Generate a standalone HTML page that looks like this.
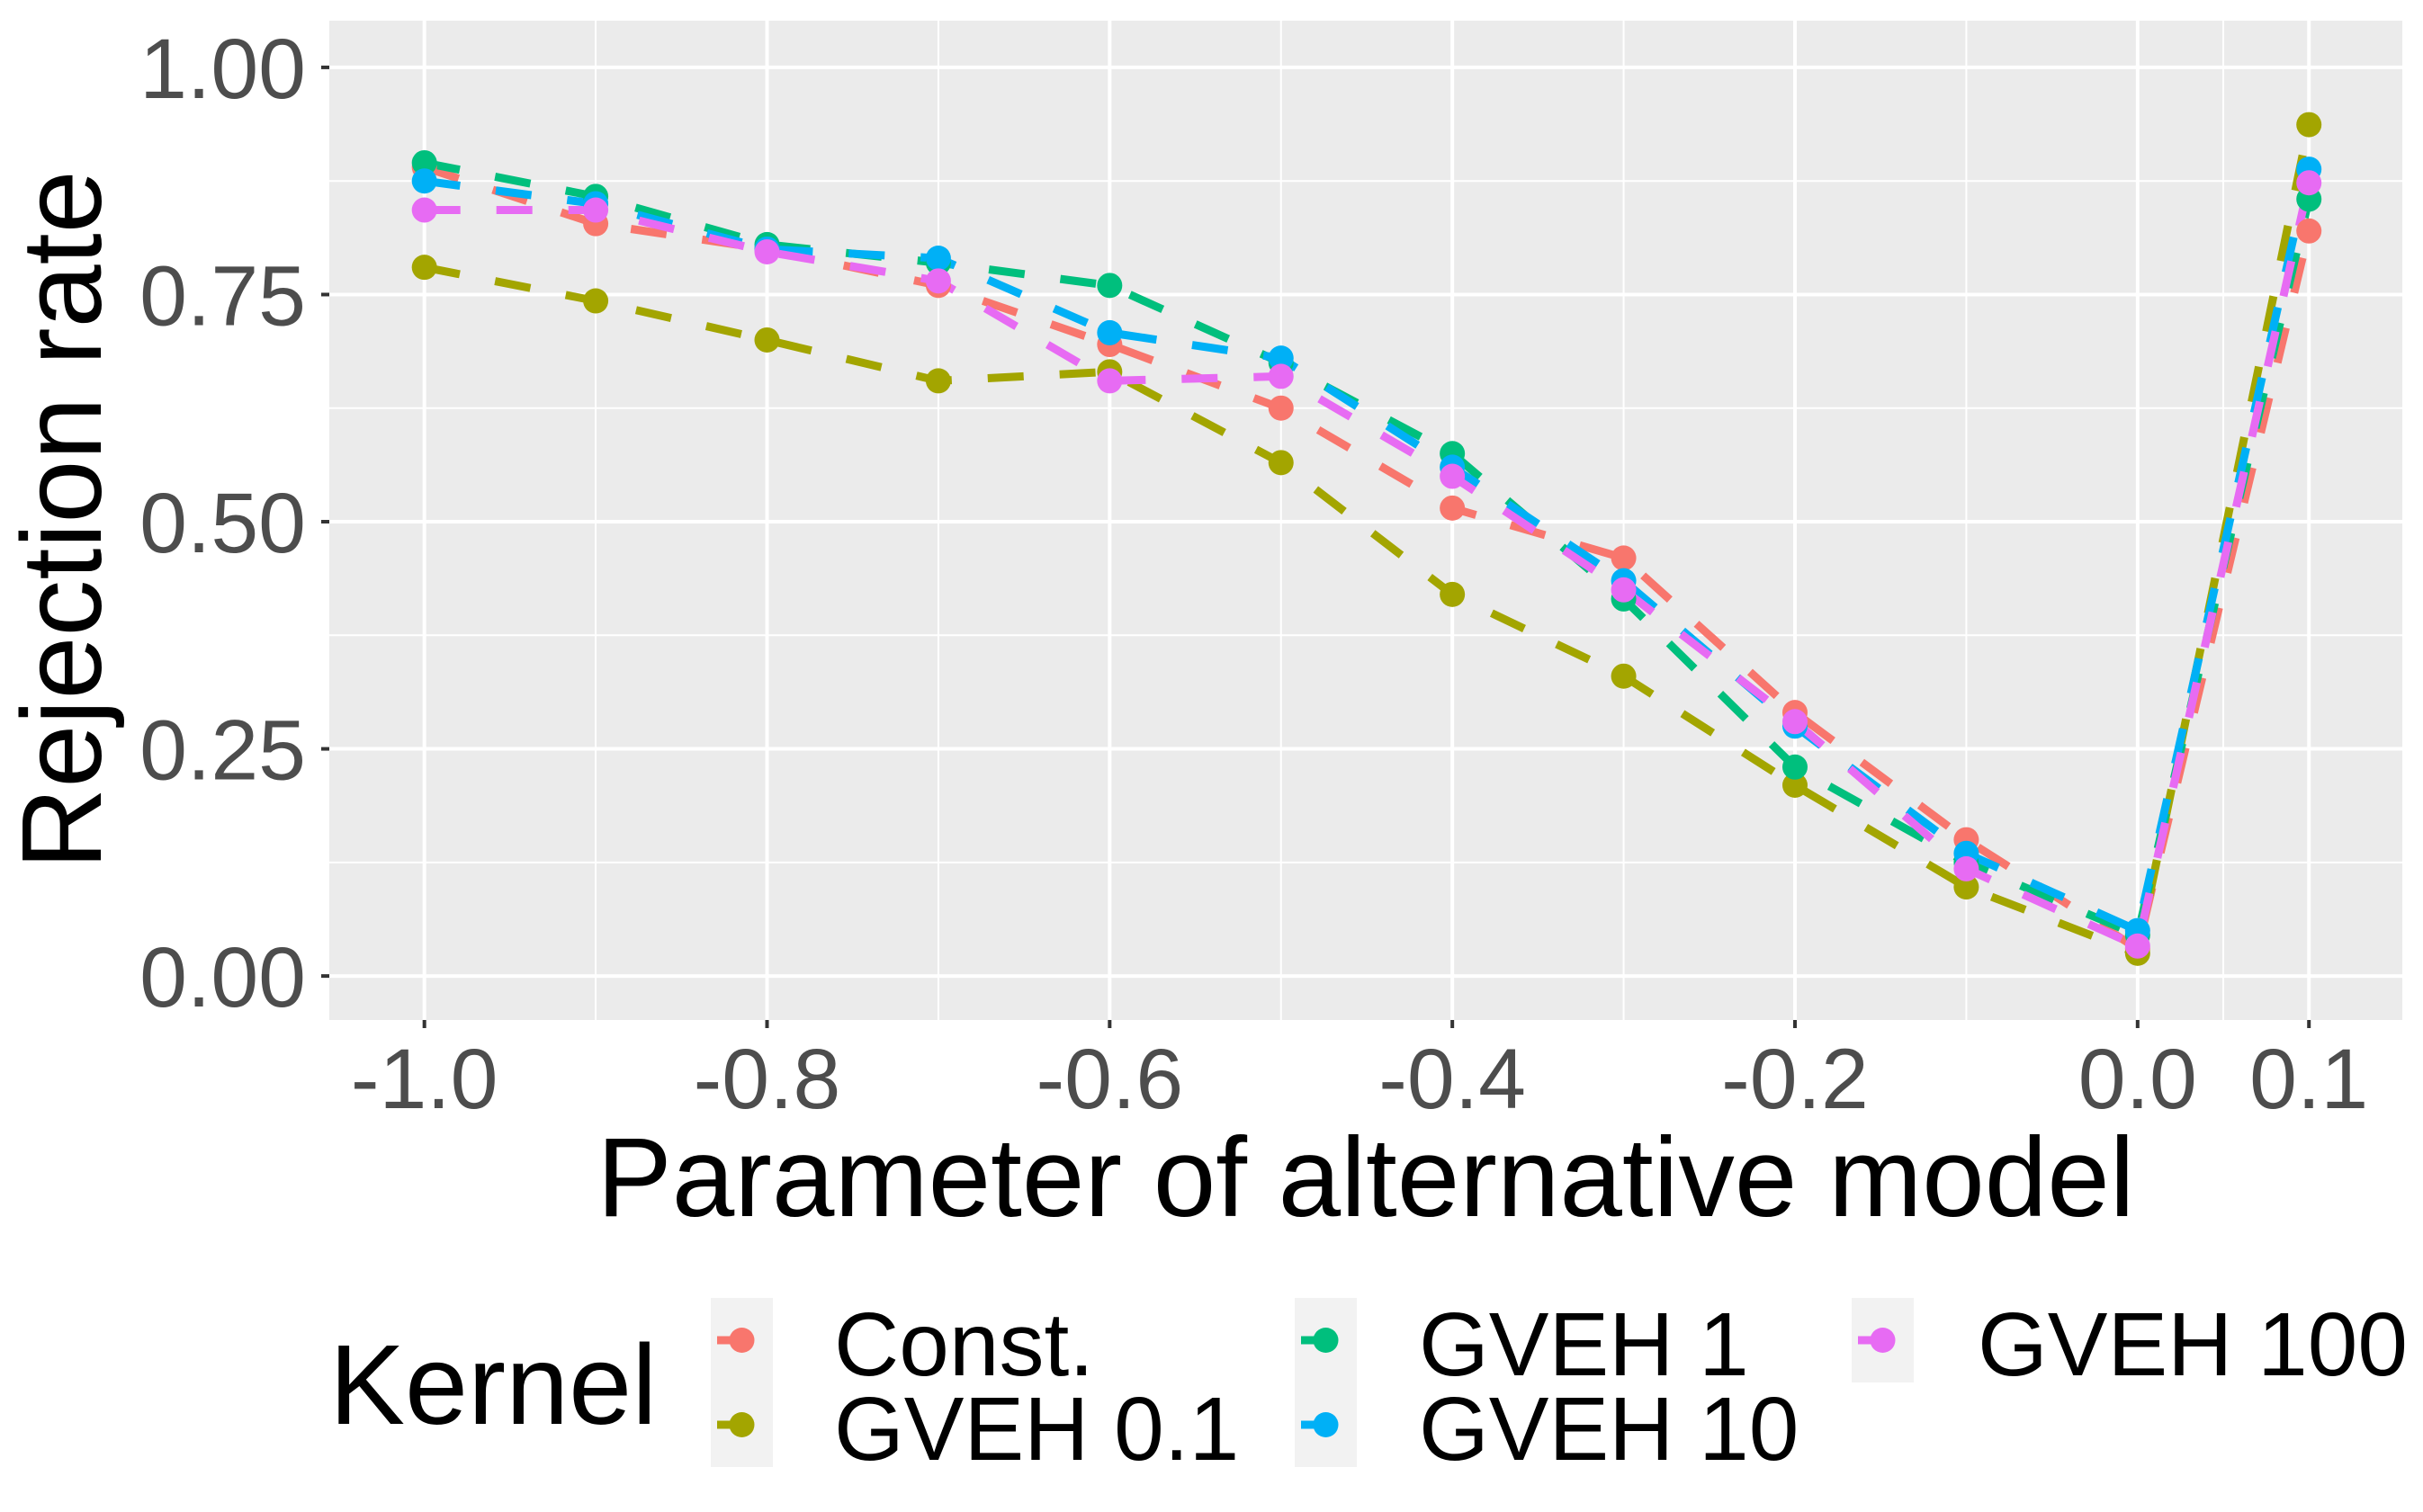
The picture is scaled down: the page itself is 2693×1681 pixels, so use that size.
<!DOCTYPE html>
<html><head><meta charset="utf-8"><style>
html,body{margin:0;padding:0;background:#fff;}
svg{display:block;font-family:"Liberation Sans",Arial,sans-serif;}
</style></head><body>
<svg id="chart" width="2693" height="1681" viewBox="0 0 2693 1681" xmlns="http://www.w3.org/2000/svg">
<rect x="0" y="0" width="2693" height="1681" fill="#fff"/>
<rect x="366" y="23" width="2304" height="1111" fill="#EBEBEB"/>
<g id="grid"></g>
<g id="lines"></g>
<g id="points"></g>
<g id="axes"></g>
<text transform="translate(112,578) rotate(-90)" text-anchor="middle" font-size="126" fill="#000">Rejection rate</text>
<text x="1518" y="1352" text-anchor="middle" font-size="125" fill="#000">Parameter of alternative model</text>
<g id="legend"></g>
</svg>
<script>
const xValues = [-1.0,-0.9,-0.8,-0.7,-0.6,-0.5,-0.4,-0.3,-0.2,-0.1,0.0,0.1];
const seriesNames = ["Const.","GVEH 0.1","GVEH 1","GVEH 10","GVEH 100"];
const constVals = [0.89,0.828,0.80,0.76,0.695,0.625,0.515,0.46,0.29,0.15,0.03,0.82];
const gveh01Vals = [0.78,0.743,0.70,0.655,0.665,0.565,0.42,0.33,0.21,0.098,0.025,0.937];
const gveh1Vals = [0.895,0.858,0.805,0.785,0.76,0.675,0.575,0.415,0.23,0.125,0.045,0.855];
const gveh10Vals = [0.875,0.85,0.80,0.79,0.708,0.68,0.56,0.435,0.275,0.135,0.05,0.888];
const gveh100Vals = [0.843,0.843,0.797,0.765,0.655,0.66,0.55,0.425,0.28,0.118,0.033,0.873];
const xTicks = [-1.0,-0.8,-0.6,-0.4,-0.2,0.0,0.1];
const xTickLabels = ["-1.0","-0.8","-0.6","-0.4","-0.2","0.0","0.1"];
const xMinor = [-0.9,-0.7,-0.5,-0.3,-0.1,0.05];
const yTicks = [0,0.25,0.5,0.75,1.0];
const yTickLabels = ["0.00","0.25","0.50","0.75","1.00"];
const yMinor = [0.125,0.375,0.625,0.875];

const colors = ["#F8766D","#A3A500","#00BF7D","#00B0F6","#E76BF3"];
const allSeries = [constVals,gveh01Vals,gveh1Vals,gveh10Vals,gveh100Vals];
const NS = "http://www.w3.org/2000/svg";
const X0=366,X1=2670,Y0=23,Y1=1134;
const xMin=-1.0555,xMax=0.1545,yMin=-0.0484,yMax=1.0514;
function sx(v){return X0+(v-xMin)/(xMax-xMin)*(X1-X0);}
function sy(v){return Y1-(v-yMin)/(yMax-yMin)*(Y1-Y0);}
function mk(tag,attrs,parent){const e=document.createElementNS(NS,tag);for(const k in attrs)e.setAttribute(k,attrs[k]);parent.appendChild(e);return e;}
const grid=document.getElementById('grid'),axes=document.getElementById('axes');
yMinor.forEach(v=>{const l=mk('line',{x1:X0,x2:X1,y1:sy(v),y2:sy(v),stroke:'#fff','stroke-width':2},grid);

});
xMinor.forEach(v=>{const l=mk('line',{x1:sx(v),x2:sx(v),y1:Y0,y2:Y1,stroke:'#fff','stroke-width':2},grid);

});
yTicks.forEach((v,i)=>{const l=mk('line',{x1:X0,x2:X1,y1:sy(v),y2:sy(v),stroke:'#fff','stroke-width':4},grid);


const t=mk('line',{x1:X0-9,x2:X0,y1:sy(v),y2:sy(v),stroke:'#333','stroke-width':4},axes);


const tx=mk('text',{x:X0-26,y:sy(v)+34,'text-anchor':'end','font-size':95,fill:'#4D4D4D'},axes);
tx.textContent=yTickLabels[i];

});
xTicks.forEach((v,i)=>{const l=mk('line',{x1:sx(v),x2:sx(v),y1:Y0,y2:Y1,stroke:'#fff','stroke-width':4},grid);


const t=mk('line',{x1:sx(v),x2:sx(v),y1:Y1,y2:Y1+9,stroke:'#333','stroke-width':4},axes);


const tx=mk('text',{x:sx(v),y:1232,'text-anchor':'middle','font-size':95,fill:'#4D4D4D'},axes);
tx.textContent=xTickLabels[i];

});
const lines=document.getElementById('lines'),points=document.getElementById('points');
allSeries.forEach((vals,s)=>{
  const d=vals.map((v,i)=>(i?'L':'M')+sx(xValues[i]).toFixed(1)+','+sy(v).toFixed(1)).join(' ');
  const p=mk('path',{d:d,fill:'none',stroke:colors[s],'stroke-width':9,'stroke-dasharray':'40 40','stroke-linejoin':'round'},lines);
  
  
});
allSeries.forEach((vals,s)=>{
  vals.forEach((v,i)=>{const c=mk('circle',{cx:sx(xValues[i]),cy:sy(v),r:14,fill:colors[s]},points);
  
  });
});
// legend
const lg=document.getElementById('legend');
const lt=mk('text',{x:366,y:1583,'font-size':126,fill:'#000'},lg);
lt.textContent='Kernel';


const keyPos=[[790,1443,927],[790,1537,927],[1439,1443,1577],[1439,1537,1577],[2058,1443,2198]];
seriesNames.forEach((n,s)=>{const [kx,ky,tx]=keyPos[s];
  const g=mk('g',{},lg);
  
  
  mk('rect',{x:kx,y:ky,width:69,height:94,fill:'#F2F2F2'},g);
  mk('line',{x1:kx+7,x2:kx+62,y1:ky+47,y2:ky+47,stroke:colors[s],'stroke-width':9,'stroke-dasharray':'40 40'},g);
  mk('circle',{cx:kx+34.5,cy:ky+47,r:14,fill:colors[s]},g);
  const t=mk('text',{x:tx,y:ky+86,'font-size':100,fill:'#000'},g);
  t.textContent=n;
});
</script>
</body></html>
